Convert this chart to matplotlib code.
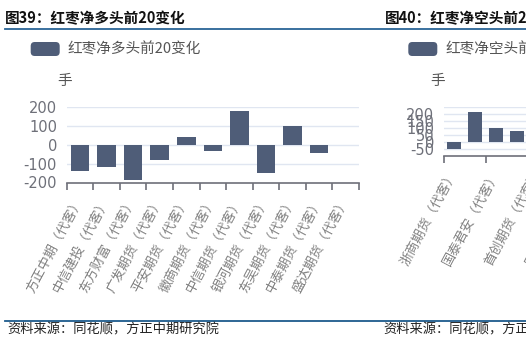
import matplotlib
matplotlib.use("Agg")
import matplotlib.pyplot as plt
from matplotlib.patches import FancyBboxPatch
from matplotlib.transforms import IdentityTransform
import numpy as np

plt.rcParams['font.family'] = ['Noto Sans CJK SC', 'DejaVu Sans']

# 图39 数据
long_names = ["方正中期（代客）", "中信建投（代客）", "东方财富（代客）", "广发期货（代客）",
              "平安期货（代客）", "徽商期货（代客）", "中信期货（代客）", "银河期货（代客）",
              "东吴期货（代客）", "中泰期货（代客）", "盛达期货（代客）"]
long_values = [-138, -116, -188, -82, 40, -30, 181, -152, 100, -43, -3]
long_yticks = [-200, -100, 0, 100, 200]

# 图40 数据（右侧被截断，只看得到前几根柱子）
short_names = ["浙商期货（代客）", "", "国泰君安（代客）", "", "首创期货（代客）", "", "国投期货（代客）"]
short_values = [-48, 214, 102, 83]
short_yticks = [-50, 0, 50, 100, 150, 200, 250]
short_ylabels = ["-50", "0", "50", "100", "150", "200", ""]

W, H = 526, 352
BAR = "#4f5d78"
GRID = "#e0e6f1"
AXIS = "#6e7079"
LABEL = "#808080"

fig = plt.figure(figsize=(W / 100, H / 100), dpi=100)


def fx(x):
    return x / W


def fy(y):
    return 1 - y / H


def draw_panel(x0, x1, y_top, y_bot, names, values, yticks, ylabels, ylim, ncat, width, label_step):
    ax = fig.add_axes([fx(x0), fy(y_bot), fx(x1) - fx(x0), (y_bot - y_top) / H])
    pos = np.arange(len(values))
    ax.bar(pos, values, width=width, color=BAR, zorder=3)
    ax.set_xlim(-0.5, ncat - 0.5)
    ax.set_ylim(*ylim)
    for s in ["top", "right", "left"]:
        ax.spines[s].set_visible(False)
    ax.spines["bottom"].set_color(AXIS)
    ax.spines["bottom"].set_linewidth(1.2)
    ax.set_yticks(yticks)
    ax.set_yticklabels(ylabels, color=AXIS, fontsize=10.5, family=['DejaVu Sans'])
    ax.tick_params(axis="y", length=0, pad=7)
    for t in yticks:
        if t > ylim[0]:
            ax.axhline(t, color=GRID, lw=1, zorder=1)
    # 刻度在类目边界上
    ax.set_xticks(np.arange(0, ncat + 1, label_step) - 0.5)
    ax.set_xticklabels([])
    ax.tick_params(axis="x", which="major", length=5, width=1.2, color=AXIS, direction="out")
    # 标签在类目中心
    centers = np.arange(0, len(names), label_step)
    ax.set_xticks(centers, minor=True)
    ax.set_xticklabels([names[i] for i in centers], minor=True, rotation=62, ha="right",
                       va="center", rotation_mode="anchor", color=LABEL, fontsize=9.5)
    ax.tick_params(axis="x", which="minor", length=0, pad=11)
    ax.set_facecolor("none")
    return ax


draw_panel(66.7, 359, 107.3, 182.5, long_names, long_values, long_yticks,
           [str(v) for v in long_yticks], (-200, 200), 11, 0.7, 1)
draw_panel(444, 444 + 20.85 * 11, 107.3, 156, short_names, short_values, short_yticks,
           short_ylabels, (-100, 250), 11, 0.67, 2)

# 标题与横线
fig.text(fx(5), fy(18), "图39：红枣净多头前20变化", fontsize=10.5, fontweight="bold", color="#111111", va="center")
fig.text(fx(385), fy(18), "图40：红枣净空头前20变化", fontsize=10.5, fontweight="bold", color="#111111", va="center")
fig.add_artist(plt.Line2D([fx(5), 1], [fy(29.3), fy(29.3)], color="#2a6496", lw=1.3))
fig.add_artist(plt.Line2D([fx(5), 1], [fy(320.5), fy(320.5)], color="#1d5a8c", lw=1.3))

# 图例
for lx, tx, txt in [(30.7, 67, "红枣净多头前20变化"), (408.3, 445, "红枣净空头前20变化")]:
    rect = FancyBboxPatch((lx, H - 56), 29, 14, boxstyle="round,pad=0,rounding_size=4",
                          transform=IdentityTransform(), facecolor=BAR, edgecolor="none")
    fig.add_artist(rect)
    fig.text(fx(tx), fy(49), txt, fontsize=10.5, color="#555555", va="center")

fig.text(fx(65), fy(81.5), "手", fontsize=10.5, color="#555555", va="center", ha="center")
fig.text(fx(438), fy(81.5), "手", fontsize=10.5, color="#555555", va="center", ha="center")

# 资料来源
fig.text(fx(7), fy(330), "资料来源：同花顺，方正中期研究院", fontsize=9.5, color="#222222", va="center", style="italic")
fig.text(fx(383), fy(330), "资料来源：同花顺，方正中期研究院", fontsize=9.5, color="#222222", va="center", style="italic")

fig.savefig("out.png", dpi=100)
